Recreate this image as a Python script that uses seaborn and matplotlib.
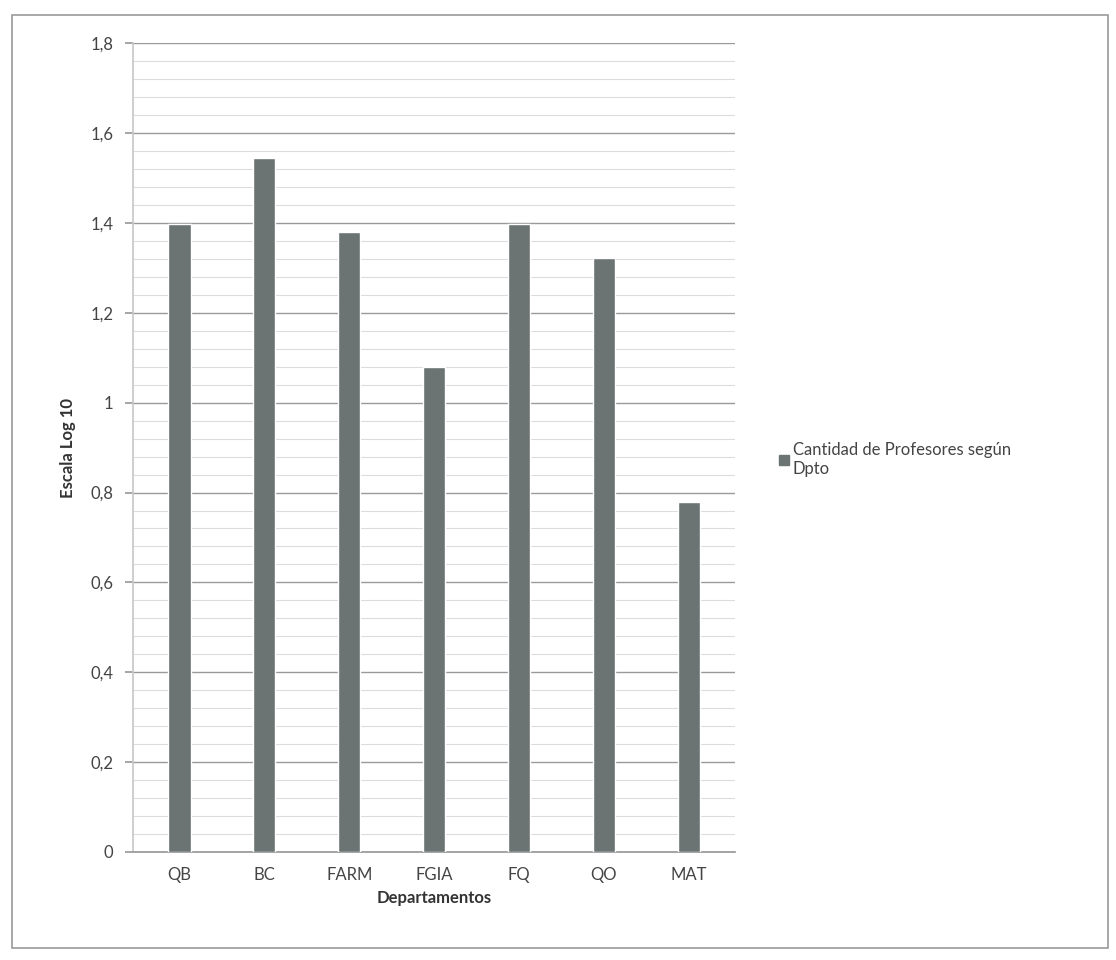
import pandas as pd
import matplotlib
matplotlib.use("Agg")
import matplotlib.pyplot as plt
import seaborn as sns
from matplotlib.patches import Rectangle
from matplotlib.ticker import MultipleLocator, FuncFormatter

departamentos = ["QB", "BC", "FARM", "FGIA", "FQ", "QO", "MAT"]
log_profesores = [1.398, 1.544, 1.380, 1.079, 1.398, 1.322, 0.778]
serie = "Cantidad de Profesores según\nDpto"

df = pd.DataFrame({"Departamentos": departamentos, "valor": log_profesores})

sns.set_theme(style="white")
plt.rcParams["font.family"] = ["Lato", "DejaVu Sans"]

fig = plt.figure(figsize=(11.16, 9.6), dpi=100)
ax = fig.add_axes([0.119, 0.1125, 0.54, 0.8425])

sns.barplot(data=df, x="Departamentos", y="valor", color="#6b7473",
            saturation=1, width=0.26, ax=ax, zorder=3)

ax.set_ylim(0, 1.8)
ax.set_xlim(-0.55, 6.55)
ax.yaxis.set_major_locator(MultipleLocator(0.2))
ax.yaxis.set_minor_locator(MultipleLocator(0.04))
ax.yaxis.set_major_formatter(FuncFormatter(
    lambda v, p: "0" if abs(v) < 1e-9 else ("1" if abs(v - 1) < 1e-9 else f"{v:.1f}".replace(".", ","))))
ax.grid(axis="y", which="major", color="#9a9a9a", linewidth=1.0, zorder=0)
ax.grid(axis="y", which="minor", color="#dcdcdc", linewidth=0.8, zorder=0)

for s in ["top", "right"]:
    ax.spines[s].set_visible(False)
ax.spines["left"].set_color("#c8c8c8")
ax.spines["bottom"].set_color("#9a9a9a")
ax.tick_params(axis="y", which="major", left=True, length=6, color="#9a9a9a",
               labelsize=12, labelcolor="#444444", pad=8)
ax.tick_params(axis="y", which="minor", left=False)
ax.tick_params(axis="x", labelsize=12, labelcolor="#444444", pad=5, bottom=False)

ax.set_xlabel("Departamentos", fontsize=12, fontweight="bold", color="#333333", labelpad=5)
ax.set_ylabel("Escala Log 10", fontsize=12, fontweight="bold", color="#333333", labelpad=10)

handle = Rectangle((0, 0), 1, 1, color="#6b7473")
fig.legend([handle], [serie], loc="upper left", bbox_to_anchor=(0.685, 0.555),
           frameon=False, fontsize=12, handlelength=0.6, handleheight=0.6,
           handletextpad=0.2, labelcolor="#444444")

border = Rectangle((0.011, 0.012), 0.982, 0.972, transform=fig.transFigure,
                   fill=False, edgecolor="#9a9a9a", linewidth=1.2)
fig.patches.append(border)

fig.savefig("out.png", dpi=100, facecolor="white")
